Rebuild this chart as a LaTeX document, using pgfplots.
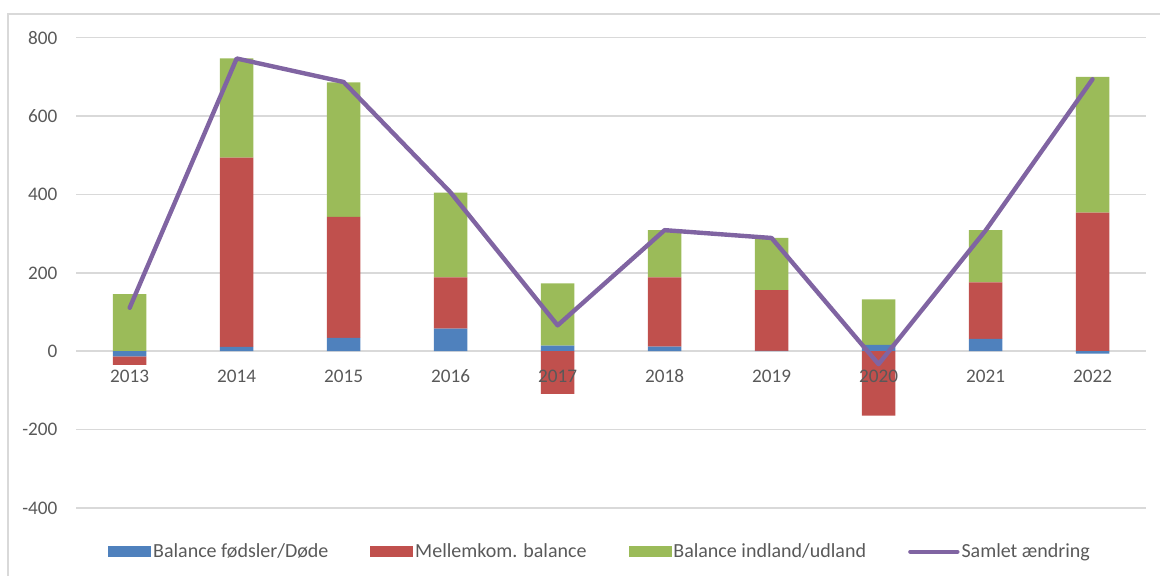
\documentclass[border=0pt]{standalone}
\usepackage{fontspec}
\setmainfont{Carlito}
\usepackage{pgfplots}
\pgfplotsset{compat=1.18}
\definecolor{cblue}{HTML}{4F81BD}
\definecolor{cred}{HTML}{C0504D}
\definecolor{cgreen}{HTML}{9BBB59}
\definecolor{cpurple}{HTML}{8064A2}
\definecolor{gridgray}{HTML}{D9D9D9}
\definecolor{textgray}{HTML}{595959}
\pgfplotsset{
  common/.style={
    scale only axis, width=534.9pt, height=235.15pt,
    xmin=-0.5, xmax=9.5, ymin=-400, ymax=800,
    xtick={0,...,9}, ytick={-400,-200,...,800},
  },
}
\begin{document}
\begin{tikzpicture}[x=1pt,y=1pt]
\fontsize{9.6}{11.5}\selectfont
\path[use as bounding box] (-38.1,-33.5) rectangle (541.9,254);
\draw[gridgray, line width=0.75pt] (-34.1,-60) -- (-34.1,247) -- (600,247);
% positive parts
\begin{axis}[common, ybar stacked, bar width=16.75pt,
  ymajorgrids, major grid style={gridgray, line width=0.75pt},
  axis line style={draw=none}, major tick length=0pt,
  xticklabels={},
  tick label style={text=textgray, font=\fontsize{9.6}{11.5}\selectfont},
  yticklabel style={xshift=-6pt},
  /pgf/number format/assume math mode=true,
]
\addplot[fill=cblue, draw=none] coordinates {(0,0) (1,11) (2,34) (3,58) (4,14.5) (5,12) (6,1) (7,16) (8,31.5) (9,0)};
\addplot[fill=cred, draw=none] coordinates {(0,0) (1,483) (2,309) (3,130.5) (4,0) (5,176.5) (6,155) (7,0) (8,144.5) (9,354)};
\addplot[fill=cgreen, draw=none] coordinates {(0,146) (1,253) (2,343) (3,216.5) (4,158.5) (5,120.5) (6,133) (7,116.5) (8,133) (9,346)};
\end{axis}
% negative parts, with the year labels drawn on top of them
\begin{axis}[common, ybar stacked, bar width=16.75pt, hide y axis,
  axis on top, axis line style={draw=none}, major tick length=0pt,
  xticklabels={2013,2014,2015,2016,2017,2018,2019,2020,2021,2022},
  tick label style={text=textgray, font=\fontsize{9.6}{11.5}\selectfont},
  xticklabel style={yshift=72.5pt},
]
\addplot[fill=cblue, draw=none] coordinates {(0,-13) (1,0) (2,0) (3,0) (4,0) (5,0) (6,0) (7,0) (8,0) (9,-6)};
\addplot[fill=cred, draw=none] coordinates {(0,-22) (1,0) (2,0) (3,0) (4,-108.5) (5,0) (6,0) (7,-164) (8,0) (9,0)};
\addplot[fill=cgreen, draw=none] coordinates {(0,0) (1,0) (2,0) (3,0) (4,0) (5,0) (6,0) (7,0) (8,0) (9,0)};
\end{axis}
% total line and legend
\begin{axis}[common, hide axis,
  legend columns=4,
  legend style={at={(0.0297,-0.093)}, anchor=west, draw=none, fill=none,
    inner sep=0pt, text=textgray, font=\fontsize{10}{12}\selectfont,
    /tikz/every even column/.append style={column sep=20pt},
    nodes={inner xsep=1pt, inner ysep=1pt}},
]
\addlegendimage{legend image code/.code={\fill[cblue] (0pt,-2.5pt) rectangle (21pt,2.5pt);}}
\addlegendentry{Balance fødsler/Døde}
\addlegendimage{legend image code/.code={\fill[cred] (0pt,-2.5pt) rectangle (21pt,2.5pt);}}
\addlegendentry{Mellemkom. balance}
\addlegendimage{legend image code/.code={\fill[cgreen] (0pt,-2.5pt) rectangle (21pt,2.5pt);}}
\addlegendentry{Balance indland/udland}
\addplot[cpurple, line width=2.2pt, mark=none, line join=round, line cap=round,
  legend image code/.code={\draw[cpurple, line width=2.2pt] (0pt,0pt) -- (23.5pt,0pt);}]
  coordinates {(0,111) (1,747) (2,687) (3,405) (4,66) (5,309) (6,289) (7,-33) (8,308) (9,694)};
\addlegendentry{Samlet ændring}
\end{axis}
\end{tikzpicture}
\end{document}
